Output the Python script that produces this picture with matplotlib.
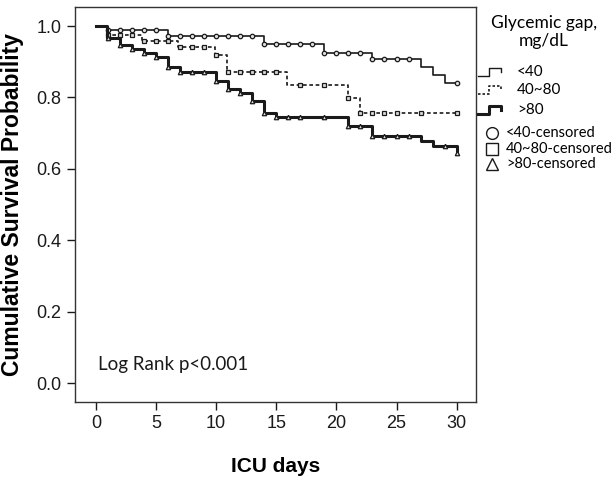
import numpy as np
import matplotlib
matplotlib.use("Agg")
import matplotlib.pyplot as plt
from matplotlib.lines import Line2D

# step curves: time of each change and survival after it
lt40_t = [0, 0.9, 6, 14, 19, 23, 27, 28, 29, 30]
lt40_s = [1.0, 0.988, 0.973, 0.950, 0.925, 0.908, 0.886, 0.863, 0.840, 0.840]
lt40_cens = [1, 2, 3, 4, 5, 6, 7, 8, 9, 10, 11, 12, 13, 14, 15, 16, 17, 18,
             19, 20, 21, 22, 23, 24, 25, 26, 30]

mid_t = [0, 0.9, 3.8, 6.8, 9.9, 10.9, 15.9, 21, 22, 30]
mid_s = [1.0, 0.975, 0.959, 0.942, 0.919, 0.870, 0.835, 0.798, 0.756, 0.756]
mid_cens = [1, 2, 3, 4, 5, 6, 7, 8, 9, 10, 11, 12, 13, 14, 15, 17, 19, 21,
            22, 23, 24, 25, 27, 30]

gt80_t = [0, 0.9, 2, 3, 4, 5, 6, 7, 10, 11, 12, 13, 14, 15, 21, 23, 27, 28, 30]
gt80_s = [1.0, 0.966, 0.947, 0.935, 0.926, 0.914, 0.886, 0.872, 0.847, 0.823,
          0.812, 0.791, 0.756, 0.745, 0.719, 0.691, 0.677, 0.663, 0.645]
gt80_cens = [1, 2, 3, 4, 5, 6, 7, 8, 9, 10, 11, 12, 13, 14, 15, 16, 17, 19,
             21, 22, 23, 24, 25, 26, 29, 30]

groups = ["<40", "40~80", ">80"]
x_ticks = [0, 5, 10, 15, 20, 25, 30]
y_ticks = [0.0, 0.2, 0.4, 0.6, 0.8, 1.0]

plt.rcParams['font.family'] = ['Liberation Sans', 'DejaVu Sans']
ink = '#1a1a1a'

fig = plt.figure(figsize=(6.14, 4.78), dpi=100)
ax = fig.add_axes([0.122, 0.159, 0.653, 0.826])


def surv_at(t, s, c):
    idx = np.searchsorted(t, c, side='right') - 1
    return np.asarray(s)[idx]


curves = [
    (lt40_t, lt40_s, lt40_cens, '-', 1.2, 'o'),
    (mid_t, mid_s, mid_cens, (0, (2.2, 1.6)), 1.2, 's'),
    (gt80_t, gt80_s, gt80_cens, '-', 2.2, '^'),
]
for t, s, c, ls, lw, mk in curves:
    ax.step(t, s, where='post', color=ink, linestyle=ls, linewidth=lw)
    ax.plot(c, surv_at(t, s, c), linestyle='none', marker=mk, ms=3.2,
            mfc='#dddddd', mec=ink, mew=0.9)

ax.set_xlim(-1.75, 31.6)
ax.set_ylim(-0.053, 1.053)
ax.set_xticks(x_ticks)
ax.set_yticks(y_ticks)
ax.set_yticklabels([f"{v:.1f}" for v in y_ticks])
ax.tick_params(direction='out', length=6, width=1, labelsize=13, colors=ink)
for sp in ax.spines.values():
    sp.set_color('#333333')
    sp.set_linewidth(1.0)

ax.set_xlabel("ICU days", fontsize=15, fontweight='bold', labelpad=18)
ax.set_ylabel("Cumulative Survival Probability", fontsize=16.5,
              fontweight='bold', labelpad=9)

ax.text(0.057, 0.094, "Log Rank p<0.001", transform=ax.transAxes,
        va='center', fontsize=13.5, family=['Lato', 'DejaVu Sans'], color=ink)

# legend drawn by hand to the right of the axes
W, H = 614.0, 478.0
lfont = ['Lato', 'DejaVu Sans']
fig.text(544 / W, 1 - 32 / H, "Glycemic gap,\nmg/dL", ha='center',
         va='center', fontsize=12.5, family=lfont, linespacing=1.15)

line_rows = [72, 90, 110]
styles = [('-', 1.0), ((0, (1.5, 1.2)), 1.2), ('-', 2.2)]
for lab, y, (ls, lw) in zip(groups, line_rows, styles):
    xs = np.array([478, 489, 489, 501, 501]) / W
    ys = 1 - (y + np.array([4, 4, -4, -4, 0])) / H
    fig.add_artist(Line2D(xs, ys, color=ink, linestyle=ls, linewidth=lw))
    fig.text(517 / W, 1 - y / H, lab, va='center', fontsize=11, family=lfont)

mark_rows = [133, 149, 164]
for lab, y, mk in zip(groups, mark_rows, ['o', 's', '^']):
    fig.add_artist(Line2D([492 / W], [1 - y / H], marker=mk, ms=8.5,
                          mfc='white', mec=ink, mew=1.0, linestyle='none'))
    fig.text(506 / W, 1 - y / H, lab + "-censored", va='center',
             fontsize=10.5, family=lfont)

fig.savefig("out.png", dpi=100)
